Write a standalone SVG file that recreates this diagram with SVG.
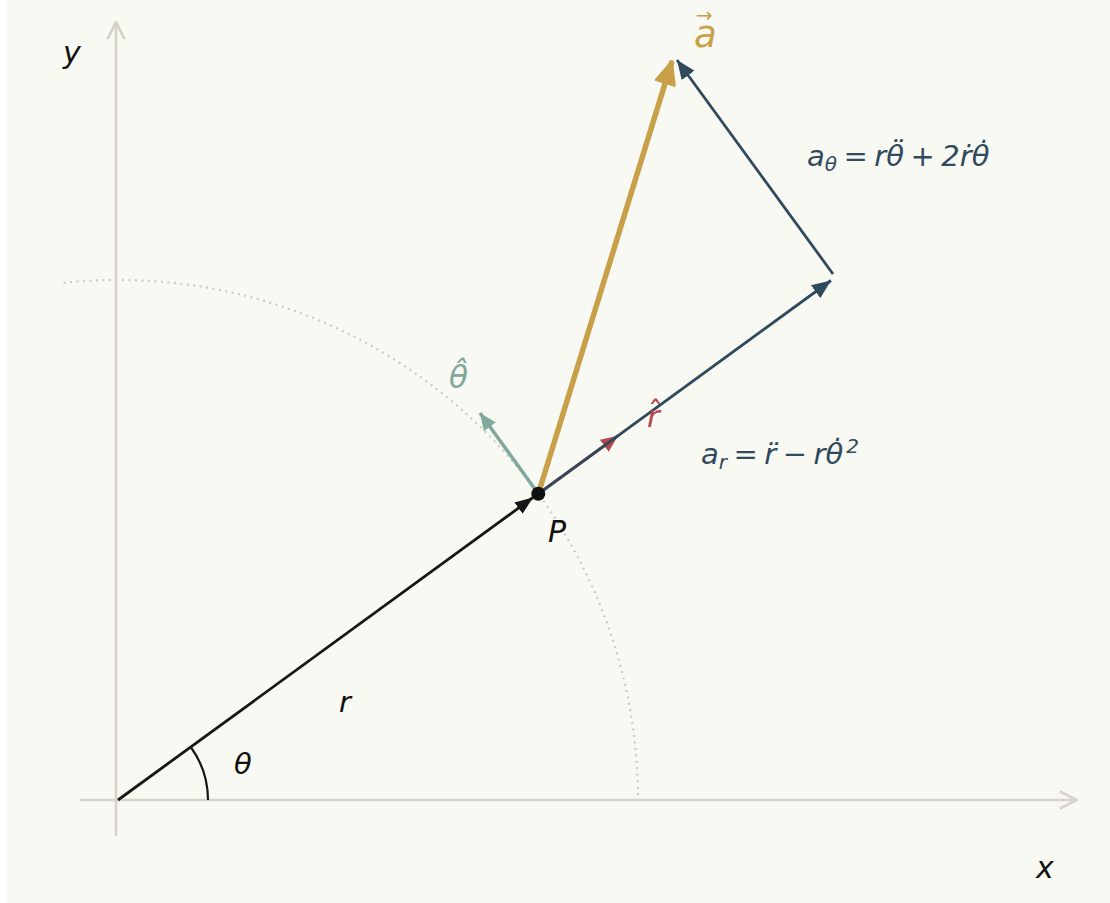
<svg xmlns="http://www.w3.org/2000/svg" width="1110" height="903" viewBox="0 0 1110 903">
<style>
.m{font-family:"DejaVu Sans","Liberation Sans",sans-serif;font-style:italic}
.ax{stroke:#d8d2cb;stroke-width:2.5;fill:none}
.slate{stroke:#2f4a5d;stroke-width:2.8;fill:none}
.eq{word-spacing:-2.7px}
</style>
<defs>
<marker id="chev" markerUnits="userSpaceOnUse" markerWidth="20" markerHeight="20" viewBox="0 0 14 14" refX="13" refY="7" orient="auto">
<path d="M1,1 L13,7 L1,13" fill="none" stroke="#d8d2cb" stroke-width="2"/>
</marker>
<marker id="hBlack" markerUnits="userSpaceOnUse" markerWidth="18" markerHeight="14" viewBox="0 0 18 14" refX="18" refY="7" orient="auto">
<path d="M0,0 L18,7 L0,14 z" fill="#161616"/>
</marker>
<marker id="hSlate" markerUnits="userSpaceOnUse" markerWidth="19" markerHeight="16" viewBox="0 0 19 16" refX="19" refY="8" orient="auto">
<path d="M0,0 L19,8 L0,16 z" fill="#2f4a5d"/>
</marker>
<marker id="hGold" markerUnits="userSpaceOnUse" markerWidth="26" markerHeight="22" viewBox="-1 -1 26 22" refX="23" refY="10" orient="auto">
<path d="M0,0 L23,10 L0,20 z" fill="#c9a04a" stroke="#c9a04a" stroke-width="2" stroke-linejoin="round"/>
</marker>
<marker id="hTeal" markerUnits="userSpaceOnUse" markerWidth="17" markerHeight="15" viewBox="0 0 17 15" refX="17" refY="7.5" orient="auto">
<path d="M0,0 L17,7.5 L0,15 z" fill="#80a89c"/>
</marker>
<marker id="hRed" markerUnits="userSpaceOnUse" markerWidth="17" markerHeight="15" viewBox="0 0 17 15" refX="17" refY="7.5" orient="auto">
<path d="M0,0 L17,7.5 L0,15 z" fill="#b5474c"/>
</marker>
</defs>
<rect x="0" y="0" width="1110" height="903" fill="#ffffff"/>
<rect x="7" y="0" width="1103" height="903" fill="#f9f9f4"/>

<g id="axes">
<line class="ax" x1="80" y1="800" x2="1077" y2="800" marker-end="url(#chev)"/>
<line class="ax" x1="116" y1="836" x2="116" y2="22" marker-end="url(#chev)"/>
<text class="m" x="1036" y="878" font-size="30" fill="#111">x</text>
<text class="m" x="63" y="63" font-size="30" fill="#111">y</text>
</g>

<g id="circle">
<path d="M63.6,282.8 A520,520 0 0 1 638,800" fill="none" stroke="#d0c9c2" stroke-width="2.2" stroke-dasharray="2 4.5"/>
</g>

<g id="angle">
<path d="M208,800 A90,90 0 0 0 190.7,747" fill="none" stroke="#161616" stroke-width="2.2"/>
<text class="m" x="234" y="774" font-size="29" fill="#111">θ</text>
</g>

<g id="connectors">
<line x1="118" y1="800" x2="533" y2="497.5" stroke="#161616" stroke-width="2.8" marker-end="url(#hBlack)"/>
<line x1="538.3" y1="493.8" x2="618" y2="435.8" stroke="#b5474c" stroke-width="3" marker-end="url(#hRed)"/>
<line class="slate" x1="538.3" y1="493.8" x2="831" y2="280.5" marker-end="url(#hSlate)"/>
<line class="slate" x1="833" y1="274" x2="677" y2="60" marker-end="url(#hSlate)"/>
<line x1="538.3" y1="493.8" x2="480" y2="413" stroke="#80a89c" stroke-width="3.5" marker-end="url(#hTeal)"/>
<line x1="538.3" y1="493.8" x2="672" y2="61" stroke="#c9a04a" stroke-width="5.5" marker-end="url(#hGold)"/>
</g>

<g id="P">
<circle cx="538.3" cy="493.8" r="7" fill="#111"/>
<text class="m" x="548" y="542" font-size="30" fill="#111">P</text>
</g>
<g id="r-label"><text class="m" x="339" y="712" font-size="29" fill="#111">r</text></g>
<g id="theta-hat"><text class="m" x="449" y="388" font-size="31" fill="#80a89c">θ̂</text></g>
<g id="r-hat"><text class="m" x="647" y="427" font-size="31" fill="#b5474c">r<tspan dx="-12" dy="-4" font-size="31" font-style="normal">ˆ</tspan></text></g>
<g id="a-vec">
<text class="m" x="694" y="47" font-size="37" fill="#c9a04a">a<tspan dx="-21" dy="-25" font-size="20" font-style="normal">→</tspan></text>
</g>
<g id="a-theta">
<text class="m eq" x="807" y="166" font-size="29" fill="#2f4a5d">a<tspan font-size="20" dy="5">θ</tspan><tspan dy="-5"> = rθ̈ + 2ṙθ̇</tspan></text>
</g>
<g id="a-r">
<text class="m eq" x="701" y="464" font-size="29" fill="#2f4a5d">a<tspan font-size="20" dy="5">r</tspan><tspan dy="-5"> = r̈ − rθ̇</tspan><tspan font-size="20" dx="3" dy="-11">2</tspan></text>
</g>
</svg>
